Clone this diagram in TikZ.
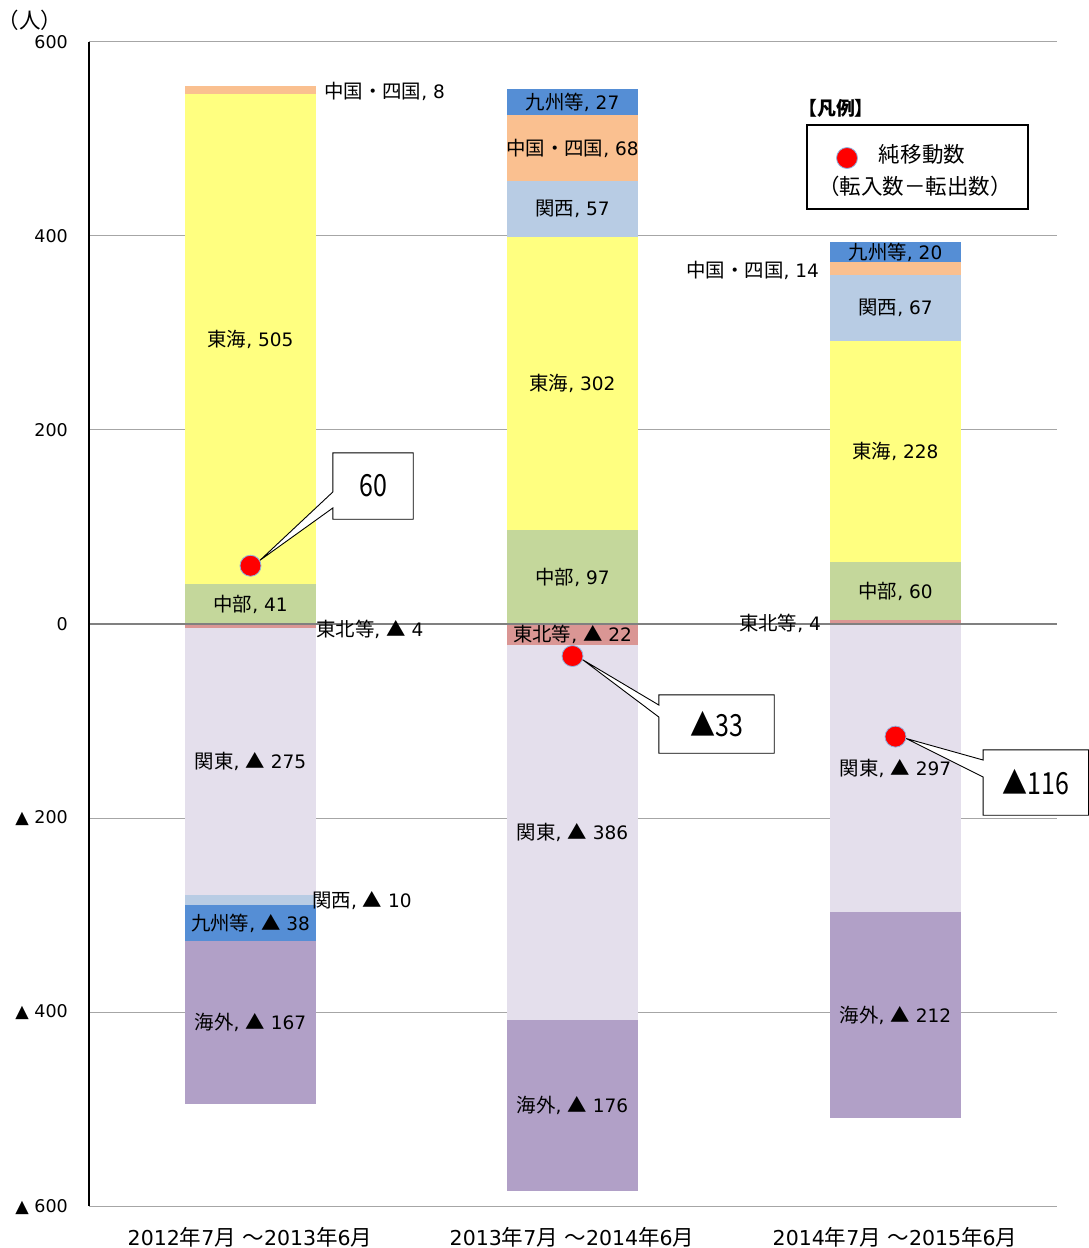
\documentclass[tikz,border=0pt]{standalone}
\usepackage{fontspec}
\setmainfont{DejaVu Sans}
\newfontfamily\jp[Scale=1.05]{Noto Sans CJK JP}
\newfontfamily\jpn[FakeStretch=0.82]{Noto Sans CJK JP}
\newcommand\J[1]{{\jp #1}}
\usetikzlibrary{calc}
\definecolor{cChushi}{HTML}{FAC090}
\definecolor{cTokai}{HTML}{FFFF80}
\definecolor{cChubu}{HTML}{C4D79B}
\definecolor{cTohoku}{HTML}{DA9694}
\definecolor{cKanto}{HTML}{E4DFEC}
\definecolor{cKansai}{HTML}{B8CCE4}
\definecolor{cKyushu}{HTML}{558ED5}
\definecolor{cKaigai}{HTML}{B1A0C7}
\definecolor{cGrid}{HTML}{A6A6A6}
\definecolor{cZero}{HTML}{808080}
\definecolor{cDotEdge}{HTML}{8FB4E0}
\newcommand\seg[4]{\fill[#4] (#1-65.5,#2) rectangle (#1+65.5,#3);}
\begin{document}
\begin{tikzpicture}[x=1pt,y=-1pt,
  lab/.style={font=\fontsize{18.5}{20}\selectfont, inner sep=0pt},
  ticklab/.style={font=\fontsize{17.5}{20}\selectfont, anchor=east, inner sep=0pt},
  catlab/.style={font=\fontsize{20.5}{22}\selectfont, inner sep=0pt},
  dot/.style={circle, minimum size=21, inner sep=0pt, fill=red, draw=cDotEdge, line width=0.8},
  cbox/.style={minimum width=#1, inner sep=0pt},
  callout/.style={draw=black, fill=white, line width=0.9, line join=miter},
  calltext/.style={font=\fontsize{30.5}{32}\selectfont\jpn, inner sep=0pt},
  legtext/.style={font=\fontsize{20.5}{22}\selectfont\jp, inner sep=0pt}
]
\useasboundingbox (0,0) rectangle (1089,1248);
\fill[white] (0,0) rectangle (1089,1248);
\begin{scope}[shift={(0,624)}, y=0.9708pt]
  % grid
  \foreach \v in {600,400,200,-200,-400,-600}
    \draw[cGrid, line width=1.3] (89,\v) -- (1057,\v);
  % bar 1
  \seg{250.5}{0}{41}{cChubu}
  \seg{250.5}{41}{546}{cTokai}
  \seg{250.5}{546}{554}{cChushi}
  \seg{250.5}{0}{-4}{cTohoku}
  \seg{250.5}{-4}{-279}{cKanto}
  \seg{250.5}{-279}{-289}{cKansai}
  \seg{250.5}{-289}{-327}{cKyushu}
  \seg{250.5}{-327}{-494}{cKaigai}
  % bar 2
  \seg{572.5}{0}{97}{cChubu}
  \seg{572.5}{97}{399}{cTokai}
  \seg{572.5}{399}{456}{cKansai}
  \seg{572.5}{456}{524}{cChushi}
  \seg{572.5}{524}{551}{cKyushu}
  \seg{572.5}{0}{-22}{cTohoku}
  \seg{572.5}{-22}{-408}{cKanto}
  \seg{572.5}{-408}{-584}{cKaigai}
  % bar 3
  \seg{895.5}{0}{4}{cTohoku}
  \seg{895.5}{4}{64}{cChubu}
  \seg{895.5}{64}{292}{cTokai}
  \seg{895.5}{292}{359}{cKansai}
  \seg{895.5}{359}{373}{cChushi}
  \seg{895.5}{373}{393}{cKyushu}
  \seg{895.5}{0}{-297}{cKanto}
  \seg{895.5}{-297}{-509}{cKaigai}
  % zero line and axis
  \draw[cZero, line width=1.5] (89,0) -- (1057,0);
  \draw[black, line width=2] (89,600) -- (89,-600);
  % labels bar 1
  \node[lab] (a1) at (250.5,293.5) {\J{東海}, 505};
  \node[lab] (a2) at (250.5,20.5) {\J{中部}, 41};
  \node[lab] (a3) at (250.5,-141.5) {\J{関東}, \J{▲} 275};
  \node[lab] (a4) at (250.5,-308) {\J{九州等}, \J{▲} 38};
  \node[lab] (a5) at (250.5,-410.5) {\J{海外}, \J{▲} 167};
  % labels bar 2
  \node[lab] (b1) at (572.5,537.5) {\J{九州等}, 27};
  \node[lab] (b2) at (572.5,490) {\J{中国・四国}, 68};
  \node[lab] (b3) at (572.5,427.5) {\J{関西}, 57};
  \node[lab] (b4) at (572.5,248) {\J{東海}, 302};
  \node[lab] (b5) at (572.5,48.5) {\J{中部}, 97};
  \node[lab] (b6) at (572.5,-11) {\J{東北等}, \J{▲} 22};
  \node[lab] (b7) at (572.5,-215) {\J{関東}, \J{▲} 386};
  \node[lab] (b8) at (572.5,-496) {\J{海外}, \J{▲} 176};
  % labels bar 3
  \node[lab] (c1l) at (895.5,383) {\J{九州等}, 20};
  \node[lab] (c2l) at (895.5,325.5) {\J{関西}, 67};
  \node[lab] (c3l) at (895.5,178) {\J{東海}, 228};
  \node[lab] (c4l) at (895.5,34) {\J{中部}, 60};
  \node[lab] (c5l) at (895.5,-148.5) {\J{関東}, \J{▲} 297};
  \node[lab] (c6l) at (895.5,-403) {\J{海外}, \J{▲} 212};
  % dots
  \node[dot] (d1) at (250.5,60) {};
  \node[dot] (d2) at (572.5,-33) {};
  \node[dot] (d3) at (895.5,-116) {};
\end{scope}
% outside labels (pixel coords)
\node[lab, anchor=west] (o1) at (324,91) {\J{中国・四国}, 8};
\node[lab, anchor=west] (o2) at (316,629) {\J{東北等}, \J{▲} 4};
\node[lab, anchor=west] (o3) at (312,901) {\J{関西}, \J{▲} 10};
\node[lab, anchor=east] (o4) at (819,270) {\J{中国・四国}, 14};
\node[lab, anchor=east] (o5) at (821,623) {\J{東北等}, 4};
% tick labels
\node[ticklab] (t1) at (68,42) {600};
\node[ticklab] (t2) at (68,236) {400};
\node[ticklab] (t3) at (68,430) {200};
\node[ticklab] (t4) at (68,624) {0};
\node[ticklab] (t5) at (68,818) {▲ 200};
\node[ticklab] (t6) at (68,1012) {▲ 400};
\node[ticklab] (t7) at (68,1207) {▲ 600};
\node[legtext] (unit) at (30,20) {（人）};
% category labels
\node[catlab] (k1) at (250,1237) {2012\J{年}7\J{月} \J{～}2013\J{年}6\J{月}};
\node[catlab] (k2) at (572,1237) {2013\J{年}7\J{月} \J{～}2014\J{年}6\J{月}};
\node[catlab] (k3) at (895,1237) {2014\J{年}7\J{月} \J{～}2015\J{年}6\J{月}};
% callouts
\node[cbox=80, minimum height=66] (cb1) at (373,486) {};
\draw[callout] (cb1.north west) -- ($(cb1.west)+(0,6)$) -- (d1.30) -- ($(cb1.west)+(0,22)$) -- (cb1.south west) -- (cb1.south east) -- (cb1.north east) -- cycle;
\node[calltext] (ct1) at (cb1) {60};
\node[cbox=115, minimum height=58] (cb2) at (716.5,724) {};
\draw[callout] (cb2.north west) -- ($(cb2.west)+(0,-19)$) -- (d2.-20) -- ($(cb2.west)+(0,-7)$) -- (cb2.south west) -- (cb2.south east) -- (cb2.north east) -- cycle;
\node[calltext] (ct2) at (cb2) {▲33};
\node[cbox=105, minimum height=65] (cb3) at (1035.75,782.5) {};
\draw[callout] (cb3.north west) -- ($(cb3.west)+(0,-22.5)$) -- (d3.-10) -- ($(cb3.west)+(0,-5.5)$) -- (cb3.south west) -- (cb3.south east) -- (cb3.north east) -- cycle;
\node[calltext] (ct3) at (cb3) {▲116};
% legend
\node[legtext, font=\fontsize{18}{20}\selectfont\jp\bfseries, anchor=west] (lt) at (798,108) {【凡例】};
\node[draw=black, line width=1.5, minimum width=221, minimum height=84, inner sep=0pt] (lg) at (917.5,167) {};
\node[dot] (ld) at (847,158) {};
\node[legtext] (l1) at (922,154) {純移動数};
\node[legtext] (l2) at (915,186) {（転入数－転出数）};
\end{tikzpicture}
\end{document}
